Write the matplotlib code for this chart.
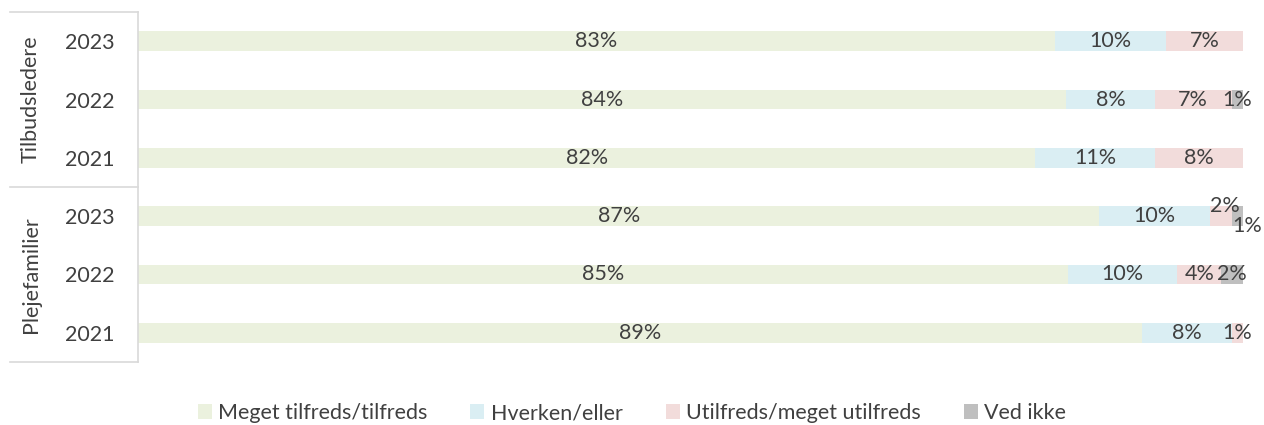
import matplotlib
matplotlib.use("Agg")
import matplotlib.pyplot as plt
import numpy as np

plt.rcParams['font.family'] = ['Lato', 'DejaVu Sans']

groups = ["Tilbudsledere", "Plejefamilier"]
years = ["2023", "2022", "2021", "2023", "2022", "2021"]
series = ["Meget tilfreds/tilfreds", "Hverken/eller", "Utilfreds/meget utilfreds", "Ved ikke"]
meget = [83, 84, 82, 87, 85, 89]
hverken = [10, 8, 11, 10, 10, 8]
utilfreds = [7, 7, 8, 2, 4, 1]
vedikke = [0, 1, 0, 1, 2, 0]
colors = ["#EBF1DE", "#DAEEF3", "#F2DCDB", "#BFBFBF"]
text_color = "#404040"
FS = 15.5

data = np.array([meget, hverken, utilfreds, vedikke], dtype=float)
totals = data.sum(axis=0)
shares = data / totals * 100

W, H = 1264, 425
fig = plt.figure(figsize=(W / 100, H / 100), dpi=100)
ax = fig.add_axes([138 / W, 1 - 362 / H, (1243 - 138) / W, 350 / H])

n = len(years)
ypos = np.arange(n)[::-1]  # first row at top
left = np.zeros(n)
# special label offsets (pixels) for crowded segments: (series idx, row idx) -> (dx, dy)
offsets = {(2, 3): (4, 10), (3, 3): (10, -10)}
for si in range(4):
    ax.barh(ypos, shares[si], left=left, height=0.34, color=colors[si],
            label=series[si], edgecolor='none')
    for ri in range(n):
        if data[si, ri] <= 0:
            continue
        cx = left[ri] + shares[si, ri] / 2
        dx, dy = offsets.get((si, ri), (0, 0))
        ax.annotate(f"{int(data[si, ri])}%", (cx, ypos[ri]), xytext=(dx, dy),
                    textcoords='offset pixels', ha='center', va='center',
                    fontsize=FS, color=text_color, annotation_clip=False)
    left = left + shares[si]

ax.set_xlim(0, 100)
ax.set_ylim(-0.5, n - 0.5)
ax.set_xticks([])
ax.set_yticks(ypos)
ax.set_yticklabels(years, fontsize=FS, color=text_color)
ax.tick_params(axis='y', length=0, pad=17)
for s in ['top', 'right', 'bottom']:
    ax.spines[s].set_visible(False)
ax.spines['left'].set_color('#D9D9D9')
ax.spines['left'].set_linewidth(1.2)

# group separators
xl = (10 - 138) / (1243 - 138)
trans = ax.get_yaxis_transform()
for yv in [n - 0.5, 2.5, -0.5]:
    ax.plot([xl, 0], [yv, yv], transform=trans, color='#D9D9D9', lw=1.2, clip_on=False)

gx = (31 - 138) / (1243 - 138)
ax.text(gx, 4.0, groups[0], transform=trans, rotation=90, ha='center', va='center',
        fontsize=FS, color=text_color)
ax.text(gx, 1.0, groups[1], transform=trans, rotation=90, ha='center', va='center',
        fontsize=FS, color=text_color)

fig.legend(loc='center', bbox_to_anchor=(0.5, 1 - 413 / H), ncol=4, frameon=False,
           fontsize=FS, handlelength=0.65, handleheight=0.65, handletextpad=0.3,
           columnspacing=2.0, labelcolor=text_color)

fig.savefig("out.png", dpi=100)
